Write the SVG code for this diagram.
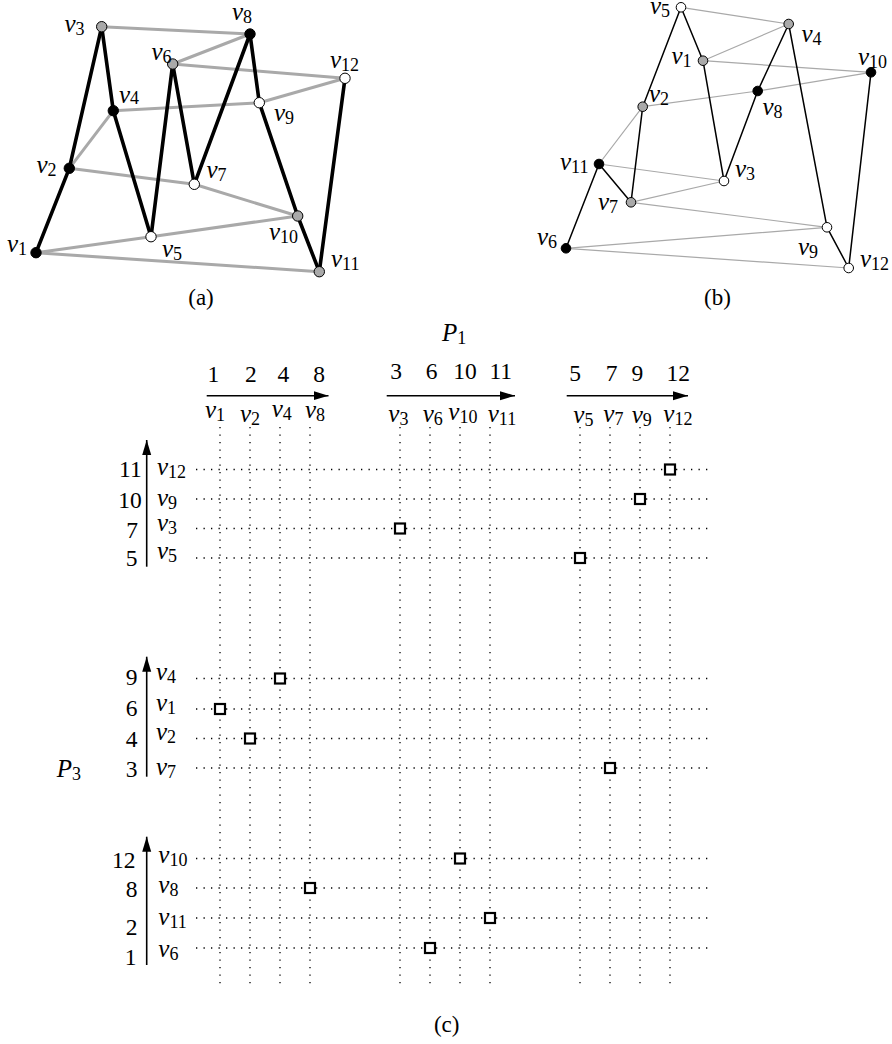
<svg xmlns="http://www.w3.org/2000/svg" width="892" height="1044" viewBox="0 0 892 1044">
<style>
.t{font-family:'Liberation Serif','DejaVu Serif',serif;fill:#000}
.lbl{font-size:25px;font-style:italic}
.sub{font-size:18px;font-style:normal}
.num{font-size:23.5px}
.cap{font-size:23px}
.ea{stroke:#000;stroke-width:3.6;stroke-linecap:round}
.ga{stroke:#a9a9a9;stroke-width:3;stroke-linecap:round}
.eb{stroke:#000;stroke-width:1.5;stroke-linecap:round}
.gb{stroke:#a9a9a9;stroke-width:1.2;stroke-linecap:round}
.nb{fill:#000;stroke:#000;stroke-width:1}
.ng{fill:#a9a9a9;stroke:#000;stroke-width:1}
.nw{fill:#fff;stroke:#000;stroke-width:1}
.dot{stroke:#000;stroke-width:1.3;stroke-dasharray:1.3 6.2;fill:none}
.ax{stroke:#000;stroke-width:1.6;fill:none}
.sq{fill:#fff;stroke:#000;stroke-width:2.2}
</style>
<defs>
<marker id="arr" markerUnits="userSpaceOnUse" markerWidth="16" markerHeight="10" refX="15" refY="4.5" orient="auto">
<path d="M0,0 L15,4.5 L0,9 z" fill="#000"/>
</marker>
</defs>

<!-- (a) connectors -->
<g id="connectors-a">
<line class="ga" x1="101.7" y1="26.7" x2="250" y2="34"/>
<line class="ga" x1="250" y1="34" x2="172.7" y2="64"/>
<line class="ga" x1="172.7" y1="64" x2="345" y2="78.3"/>
<line class="ga" x1="345" y1="78.3" x2="259.3" y2="102.7"/>
<line class="ga" x1="259.3" y1="102.7" x2="113.3" y2="110.7"/>
<line class="ga" x1="113.3" y1="110.7" x2="69.3" y2="168.3"/>
<line class="ga" x1="69.3" y1="168.3" x2="194.3" y2="184.3"/>
<line class="ga" x1="194.3" y1="184.3" x2="297.7" y2="216"/>
<line class="ga" x1="297.7" y1="216" x2="151" y2="236.7"/>
<line class="ga" x1="151" y1="236.7" x2="36" y2="252.7"/>
<line class="ga" x1="36" y1="252.7" x2="319.3" y2="271.7"/>
<line class="ea" x1="36" y1="252.7" x2="69.3" y2="168.3"/>
<line class="ea" x1="69.3" y1="168.3" x2="101.7" y2="26.7"/>
<line class="ea" x1="101.7" y1="26.7" x2="113.3" y2="110.7"/>
<line class="ea" x1="113.3" y1="110.7" x2="151" y2="236.7"/>
<line class="ea" x1="151" y1="236.7" x2="172.7" y2="64"/>
<line class="ea" x1="172.7" y1="64" x2="194.3" y2="184.3"/>
<line class="ea" x1="194.3" y1="184.3" x2="250" y2="34"/>
<line class="ea" x1="250" y1="34" x2="259.3" y2="102.7"/>
<line class="ea" x1="259.3" y1="102.7" x2="297.7" y2="216"/>
<line class="ea" x1="297.7" y1="216" x2="319.3" y2="271.7"/>
<line class="ea" x1="319.3" y1="271.7" x2="345" y2="78.3"/>
</g>

<!-- (a) nodes -->
<g id="a-v1"><circle class="nb" cx="36" cy="252.7" r="5.2"/><text class="t lbl" x="7" y="251.7">v<tspan class="sub" dy="3">1</tspan></text></g>
<g id="a-v2"><circle class="nb" cx="69.3" cy="168.3" r="5.2"/><text class="t lbl" x="36.5" y="173">v<tspan class="sub" dy="3">2</tspan></text></g>
<g id="a-v3"><circle class="ng" cx="101.7" cy="26.7" r="5.2"/><text class="t lbl" x="64.5" y="31.7">v<tspan class="sub" dy="3">3</tspan></text></g>
<g id="a-v4"><circle class="nb" cx="113.3" cy="110.7" r="5.2"/><text class="t lbl" x="119" y="103.3">v<tspan class="sub" dy="1">4</tspan></text></g>
<g id="a-v5"><circle class="nw" cx="151" cy="236.7" r="5.2"/><text class="t lbl" x="162" y="256.7">v<tspan class="sub" dy="3">5</tspan></text></g>
<g id="a-v6"><circle class="ng" cx="172.7" cy="64" r="5.2"/><text class="t lbl" x="151.5" y="60">v<tspan class="sub" dy="3">6</tspan></text></g>
<g id="a-v7"><circle class="nw" cx="194.3" cy="184.3" r="5.2"/><text class="t lbl" x="206.5" y="178.3">v<tspan class="sub" dy="3">7</tspan></text></g>
<g id="a-v8"><circle class="nb" cx="250" cy="34" r="5.2"/><text class="t lbl" x="232" y="20">v<tspan class="sub" dy="3">8</tspan></text></g>
<g id="a-v9"><circle class="nw" cx="259.3" cy="102.7" r="5.2"/><text class="t lbl" x="274" y="120.7">v<tspan class="sub" dy="3">9</tspan></text></g>
<g id="a-v10"><circle class="ng" cx="297.7" cy="216" r="5.2"/><text class="t lbl" x="269" y="240">v<tspan class="sub" dy="3">10</tspan></text></g>
<g id="a-v11"><circle class="ng" cx="319.3" cy="271.7" r="5.2"/><text class="t lbl" x="331" y="266.7">v<tspan class="sub" dy="3">11</tspan></text></g>
<g id="a-v12"><circle class="nw" cx="345" cy="78.3" r="5.2"/><text class="t lbl" x="330" y="68.3">v<tspan class="sub" dy="3">12</tspan></text></g>
<text class="t cap" x="201" y="305" text-anchor="middle">(a)</text>

<!-- (b) connectors -->
<g id="connectors-b">
<line class="gb" x1="681" y1="7.3" x2="788.7" y2="24"/>
<line class="gb" x1="788.7" y1="24" x2="703" y2="60.7"/>
<line class="gb" x1="703" y1="60.7" x2="871" y2="72.3"/>
<line class="gb" x1="871" y1="72.3" x2="757.7" y2="91"/>
<line class="gb" x1="757.7" y1="91" x2="642.7" y2="106.7"/>
<line class="gb" x1="642.7" y1="106.7" x2="599" y2="164"/>
<line class="gb" x1="599" y1="164" x2="724" y2="181"/>
<line class="gb" x1="724" y1="181" x2="631" y2="202.3"/>
<line class="gb" x1="631" y1="202.3" x2="827" y2="227.3"/>
<line class="gb" x1="827" y1="227.3" x2="566" y2="248.3"/>
<line class="gb" x1="566" y1="248.3" x2="848.7" y2="268"/>
<line class="eb" x1="566" y1="248.3" x2="599" y2="164"/>
<line class="eb" x1="599" y1="164" x2="631" y2="202.3"/>
<line class="eb" x1="631" y1="202.3" x2="642.7" y2="106.7"/>
<line class="eb" x1="642.7" y1="106.7" x2="681" y2="7.3"/>
<line class="eb" x1="681" y1="7.3" x2="703" y2="60.7"/>
<line class="eb" x1="703" y1="60.7" x2="724" y2="181"/>
<line class="eb" x1="724" y1="181" x2="757.7" y2="91"/>
<line class="eb" x1="757.7" y1="91" x2="788.7" y2="24"/>
<line class="eb" x1="788.7" y1="24" x2="827" y2="227.3"/>
<line class="eb" x1="827" y1="227.3" x2="848.7" y2="268"/>
<line class="eb" x1="848.7" y1="268" x2="871" y2="72.3"/>
</g>

<!-- (b) nodes -->
<g id="b-v5"><circle class="nw" cx="681" cy="7.3" r="4.8"/><text class="t lbl" x="650" y="14">v<tspan class="sub" dy="3">5</tspan></text></g>
<g id="b-v4"><circle class="ng" cx="788.7" cy="24" r="4.8"/><text class="t lbl" x="801.5" y="41.7">v<tspan class="sub" dy="3">4</tspan></text></g>
<g id="b-v1"><circle class="ng" cx="703" cy="60.7" r="4.8"/><text class="t lbl" x="671.5" y="64">v<tspan class="sub" dy="3">1</tspan></text></g>
<g id="b-v10"><circle class="nb" cx="871" cy="72.3" r="4.8"/><text class="t lbl" x="858" y="65">v<tspan class="sub" dy="3">10</tspan></text></g>
<g id="b-v8"><circle class="nb" cx="757.7" cy="91" r="4.8"/><text class="t lbl" x="762.5" y="115">v<tspan class="sub" dy="3">8</tspan></text></g>
<g id="b-v2"><circle class="ng" cx="642.7" cy="106.7" r="4.8"/><text class="t lbl" x="649" y="101.7">v<tspan class="sub" dy="3">2</tspan></text></g>
<g id="b-v11"><circle class="nb" cx="599" cy="164" r="4.8"/><text class="t lbl" x="560" y="170">v<tspan class="sub" dy="3">11</tspan></text></g>
<g id="b-v3"><circle class="nw" cx="724" cy="181" r="4.8"/><text class="t lbl" x="735" y="176.7">v<tspan class="sub" dy="3">3</tspan></text></g>
<g id="b-v7"><circle class="ng" cx="631" cy="202.3" r="4.8"/><text class="t lbl" x="598" y="210">v<tspan class="sub" dy="3">7</tspan></text></g>
<g id="b-v9"><circle class="nw" cx="827" cy="227.3" r="4.8"/><text class="t lbl" x="798" y="255">v<tspan class="sub" dy="3">9</tspan></text></g>
<g id="b-v6"><circle class="nb" cx="566" cy="248.3" r="4.8"/><text class="t lbl" x="537" y="245">v<tspan class="sub" dy="3">6</tspan></text></g>
<g id="b-v12"><circle class="nw" cx="848.7" cy="268" r="4.8"/><text class="t lbl" x="860" y="266.7">v<tspan class="sub" dy="3">12</tspan></text></g>
<text class="t cap" x="717.5" y="305" text-anchor="middle">(b)</text>

<!-- (c) grid -->
<g id="grid">
<g id="vlines">
<line class="dot" x1="220" y1="427" x2="220" y2="984"/>
<line class="dot" x1="250" y1="427" x2="250" y2="984"/>
<line class="dot" x1="280" y1="427" x2="280" y2="984"/>
<line class="dot" x1="310" y1="427" x2="310" y2="984"/>
<line class="dot" x1="400" y1="427" x2="400" y2="984"/>
<line class="dot" x1="430" y1="427" x2="430" y2="984"/>
<line class="dot" x1="460" y1="427" x2="460" y2="984"/>
<line class="dot" x1="490" y1="427" x2="490" y2="984"/>
<line class="dot" x1="580" y1="427" x2="580" y2="984"/>
<line class="dot" x1="610" y1="427" x2="610" y2="984"/>
<line class="dot" x1="640" y1="427" x2="640" y2="984"/>
<line class="dot" x1="670" y1="427" x2="670" y2="984"/>
</g>
<g id="hlines">
<line class="dot" x1="196" y1="469.5" x2="709" y2="469.5"/>
<line class="dot" x1="196" y1="499" x2="709" y2="499"/>
<line class="dot" x1="196" y1="528.5" x2="709" y2="528.5"/>
<line class="dot" x1="196" y1="558" x2="709" y2="558"/>
<line class="dot" x1="196" y1="678.5" x2="709" y2="678.5"/>
<line class="dot" x1="196" y1="709" x2="709" y2="709"/>
<line class="dot" x1="196" y1="738.5" x2="709" y2="738.5"/>
<line class="dot" x1="196" y1="768" x2="709" y2="768"/>
<line class="dot" x1="196" y1="858.5" x2="709" y2="858.5"/>
<line class="dot" x1="196" y1="888" x2="709" y2="888"/>
<line class="dot" x1="196" y1="918" x2="709" y2="918"/>
<line class="dot" x1="196" y1="948" x2="709" y2="948"/>
</g>
</g>

<!-- axes -->
<g id="axes">
<line class="ax" x1="206.7" y1="395.7" x2="328.5" y2="395.7" marker-end="url(#arr)"/>
<line class="ax" x1="386.7" y1="395.7" x2="515" y2="395.7" marker-end="url(#arr)"/>
<line class="ax" x1="566.7" y1="395.7" x2="688" y2="395.7" marker-end="url(#arr)"/>
<line class="ax" x1="146.7" y1="566.7" x2="146.7" y2="440" marker-end="url(#arr)"/>
<line class="ax" x1="146.7" y1="776.7" x2="146.7" y2="656.7" marker-end="url(#arr)"/>
<line class="ax" x1="146.7" y1="965" x2="146.7" y2="836.7" marker-end="url(#arr)"/>
</g>

<!-- P1 labels -->
<g id="p1-labels">
<text class="t lbl" x="442" y="341">P<tspan class="sub" dy="3">1</tspan></text>
<text class="t num" text-anchor="middle" x="213.3" y="381.5">1</text>
<text class="t num" text-anchor="middle" x="250.8" y="381.5">2</text>
<text class="t num" text-anchor="middle" x="283.3" y="381.5">4</text>
<text class="t num" text-anchor="middle" x="319" y="381.5">8</text>
<text class="t num" text-anchor="middle" x="396" y="378.5">3</text>
<text class="t num" text-anchor="middle" x="431.7" y="378.5">6</text>
<text class="t num" text-anchor="middle" x="465" y="378.5">10</text>
<text class="t num" text-anchor="middle" x="500.8" y="378.5">11</text>
<text class="t num" text-anchor="middle" x="575" y="380.7">5</text>
<text class="t num" text-anchor="middle" x="611.7" y="380.7">7</text>
<text class="t num" text-anchor="middle" x="637.3" y="380.7">9</text>
<text class="t num" text-anchor="middle" x="678.3" y="380.7">12</text>
<text class="t lbl" x="205" y="418.3">v<tspan class="sub" dy="3">1</tspan></text>
<text class="t lbl" x="240" y="421.7">v<tspan class="sub" dy="3">2</tspan></text>
<text class="t lbl" x="271.7" y="416.7">v<tspan class="sub" dy="3">4</tspan></text>
<text class="t lbl" x="305" y="418.3">v<tspan class="sub" dy="3">8</tspan></text>
<text class="t lbl" x="388.3" y="421.7">v<tspan class="sub" dy="3">3</tspan></text>
<text class="t lbl" x="422.7" y="421.7">v<tspan class="sub" dy="3">6</tspan></text>
<text class="t lbl" x="448.3" y="420">v<tspan class="sub" dy="3">10</tspan></text>
<text class="t lbl" x="487.7" y="421.7">v<tspan class="sub" dy="3">11</tspan></text>
<text class="t lbl" x="573.3" y="423.3">v<tspan class="sub" dy="3">5</tspan></text>
<text class="t lbl" x="603.3" y="421.7">v<tspan class="sub" dy="3">7</tspan></text>
<text class="t lbl" x="631.7" y="423.3">v<tspan class="sub" dy="3">9</tspan></text>
<text class="t lbl" x="663.3" y="421.7">v<tspan class="sub" dy="3">12</tspan></text>
</g>

<!-- P3 labels -->
<g id="p3-labels">
<text class="t lbl" x="56.7" y="777">P<tspan class="sub" dy="3">3</tspan></text>
<text class="t num" text-anchor="end" x="141.7" y="477">11</text>
<text class="t num" text-anchor="end" x="141.7" y="508">10</text>
<text class="t num" text-anchor="end" x="138" y="538">7</text>
<text class="t num" text-anchor="end" x="137.5" y="566">5</text>
<text class="t lbl" x="157" y="474.5">v<tspan class="sub" dy="3">12</tspan></text>
<text class="t lbl" x="157" y="506">v<tspan class="sub" dy="3">9</tspan></text>
<text class="t lbl" x="157" y="531">v<tspan class="sub" dy="3">3</tspan></text>
<text class="t lbl" x="157" y="559">v<tspan class="sub" dy="3">5</tspan></text>
<text class="t num" text-anchor="end" x="137.5" y="685">9</text>
<text class="t num" text-anchor="end" x="137.5" y="716">6</text>
<text class="t num" text-anchor="end" x="137.5" y="746.7">4</text>
<text class="t num" text-anchor="end" x="137.5" y="776.7">3</text>
<text class="t lbl" x="156" y="680">v<tspan class="sub" dy="3">4</tspan></text>
<text class="t lbl" x="156" y="710.7">v<tspan class="sub" dy="3">1</tspan></text>
<text class="t lbl" x="156" y="740">v<tspan class="sub" dy="3">2</tspan></text>
<text class="t lbl" x="156" y="775">v<tspan class="sub" dy="3">7</tspan></text>
<text class="t num" text-anchor="end" x="135.5" y="868">12</text>
<text class="t num" text-anchor="end" x="137.5" y="897">8</text>
<text class="t num" text-anchor="end" x="137.5" y="935">2</text>
<text class="t num" text-anchor="end" x="136.5" y="965">1</text>
<text class="t lbl" x="158.3" y="862.7">v<tspan class="sub" dy="3">10</tspan></text>
<text class="t lbl" x="158.3" y="892.7">v<tspan class="sub" dy="3">8</tspan></text>
<text class="t lbl" x="158.3" y="925">v<tspan class="sub" dy="3">11</tspan></text>
<text class="t lbl" x="158.3" y="956.7">v<tspan class="sub" dy="3">6</tspan></text>
</g>

<!-- points -->
<g id="points">
<rect class="sq" x="665" y="464.5" width="10" height="10"/>
<rect class="sq" x="635" y="494" width="10" height="10"/>
<rect class="sq" x="395" y="523.5" width="10" height="10"/>
<rect class="sq" x="575" y="553" width="10" height="10"/>
<rect class="sq" x="275" y="673.5" width="10" height="10"/>
<rect class="sq" x="215" y="704" width="10" height="10"/>
<rect class="sq" x="245" y="733.5" width="10" height="10"/>
<rect class="sq" x="605" y="763" width="10" height="10"/>
<rect class="sq" x="455" y="853.5" width="10" height="10"/>
<rect class="sq" x="305" y="883" width="10" height="10"/>
<rect class="sq" x="485" y="913" width="10" height="10"/>
<rect class="sq" x="425" y="943" width="10" height="10"/>
</g>
<text class="t cap" x="446.7" y="1032" text-anchor="middle">(c)</text>
</svg>
